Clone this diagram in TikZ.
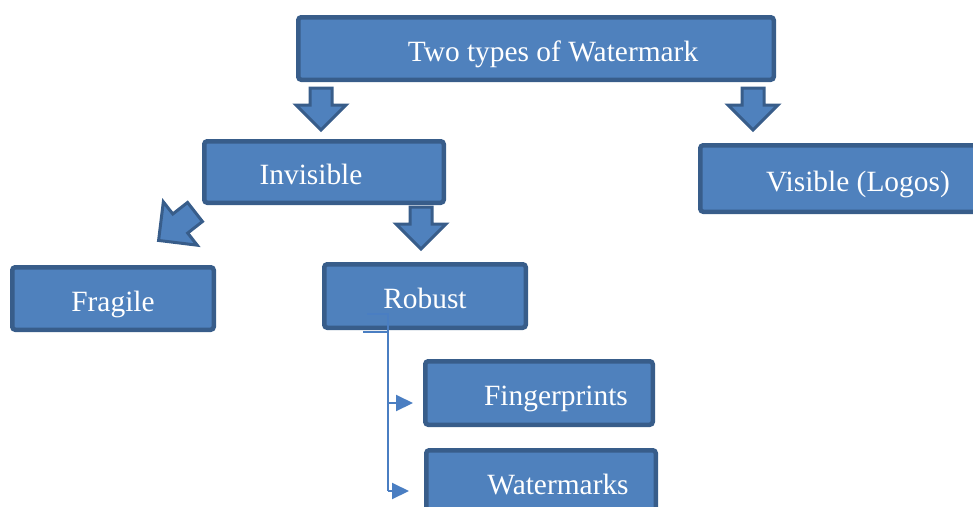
\documentclass[tikz,border=0pt]{standalone}
\usepackage{fontspec}
\setmainfont{Liberation Serif}
\usetikzlibrary{positioning,arrows.meta}
\definecolor{boxfill}{HTML}{4F81BD}
\definecolor{boxline}{HTML}{385D8A}
\definecolor{linkcol}{HTML}{4A7EC2}
\tikzset{
  % --- boxes -----------------------------------------------------------
  box/.style     ={rectangle, rounded corners=3pt, draw=boxline, fill=boxfill,
                   line width=4.5pt, text=white, inner sep=0pt,
                   text height=26pt, text depth=1pt,
                   font=\fontsize{29.4}{35}\selectfont},
  % --- block arrows (drawn pointing down, rotate for other directions) --
  fatarrow/.style={draw=boxline, fill=boxfill, line width=3pt, line join=miter},
  fatdown/.pic   ={\path[fatarrow] (-11,0) -- (11,0) -- (11,17) -- (25,17)
                   -- (0,42) -- (-25,17) -- (-11,17) -- cycle;},
  % --- thin connectors -------------------------------------------------
  link/.style    ={draw=linkcol, line width=2pt},
  linkarrow/.style={link, -{Triangle[length=17pt, width=16pt]}},
}

\begin{document}
\begin{tikzpicture}[x=1pt, y=-1pt]
  \path[use as bounding box, clip] (0,0) rectangle (973,506);

  % ============================= top level =============================
  \node[box, minimum width=475.5pt, minimum height=62.5pt] (top) at (536,48.5)
    {\hspace*{34pt}Two types of Watermark};

  % ============================= second level =============================
  \node[box, minimum width=239.5pt, minimum height=61.5pt] (inv) at (324,172)
    {Invisible\hspace*{26pt}};
  \node[box, minimum width=337.5pt, minimum height=66.5pt] (vis) at (869,178.5)
    {Visible (Logos)\hspace*{22pt}};

  % ============================= third level =============================
  \node[box, minimum width=201.5pt, minimum height=62.5pt] (frag) at (113,298.5) {Fragile};
  \node[box, minimum width=201.5pt, minimum height=63.5pt] (rob)  at (425,296)   {Robust};

  % ============================= robust kinds =============================
  \node[box, minimum width=227.5pt, minimum height=63.5pt] (fing) at (539,393)
    {\hspace*{34pt}Fingerprints};
  \node[box, minimum width=229.5pt, minimum height=63.5pt] (wm)   at (541,482)
    {\hspace*{34pt}Watermarks};

  % ============================= block arrows =============================
  \pic at (321,88)  {fatdown};
  \pic at (753,88)  {fatdown};
  \pic at (421,207) {fatdown};
  \pic[rotate=-52, scale=1.1] at (195,212) {fatdown};

  % ============================= bracket connector =============================
  \coordinate (split) at (388,314);
  \coordinate (foot)  at (388,491);
  \draw[link] (367,314) -- (split) -- (foot);
  \draw[link] (363,332) -- (388,332);
  \draw[linkarrow] (388,403) -- ([xshift=-10pt, yshift=-10pt]fing.west);
  \draw[linkarrow] (foot) -- ([xshift=-15pt, yshift=-9pt]wm.west);

\end{tikzpicture}
\end{document}
